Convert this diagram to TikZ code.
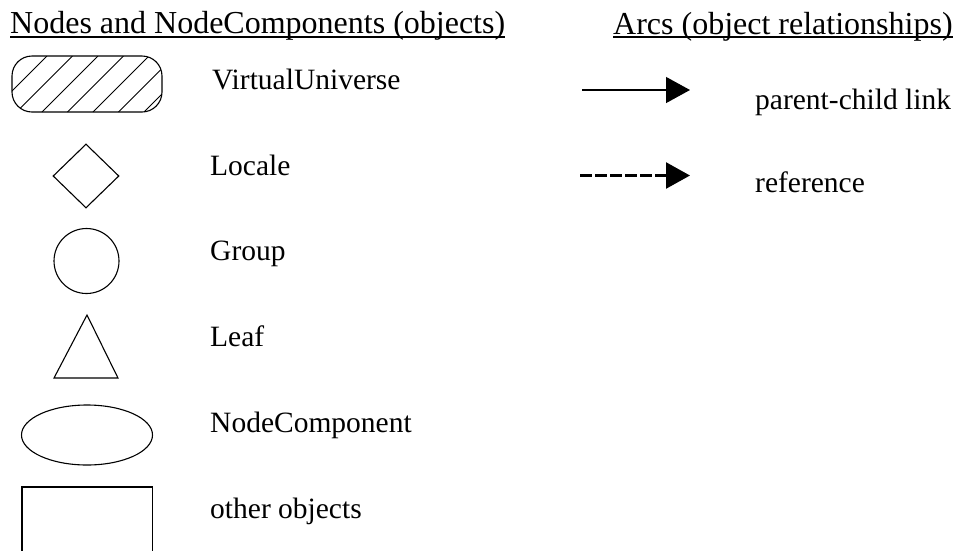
\documentclass[tikz,border=0pt]{standalone}
\usepackage{fontspec}
\setmainfont{Liberation Serif}
\usetikzlibrary{shapes.geometric,arrows.meta}
\begin{document}
\begin{tikzpicture}[x=1pt,y=-1pt,
  heading/.style={anchor=base west,inner sep=0pt,font=\fontsize{32}{36}\selectfont},
  label/.style={anchor=base west,inner sep=0pt,font=\fontsize{29.5}{34}\selectfont},
  outline/.style={draw=black,line width=1.1pt},
  linkarrow/.style={-{Triangle[length=24pt,width=26pt]}}]
\useasboundingbox (0,0) rectangle (961,550);

% headings, underlined
\node[heading] (h1) at (10,33) {Nodes and NodeComponents (objects)};
\node[heading] (h2) at (613,34) {Arcs (object relationships)};
\draw[line width=2pt] ([yshift=-4pt]h1.base west) -- ([yshift=-4pt]h1.base east);
\draw[line width=2pt] ([yshift=-3pt]h2.base west) -- ([yshift=-3pt]h2.base east);

% VirtualUniverse: hatched rounded box
\begin{scope}
  \clip[rounded corners=20pt] (12,56) rectangle (162,112);
  \foreach \k in {-3,...,6}
    \draw[line width=0.9pt] ({47+25.5*\k},56) -- ({47+25.5*\k-56},112);
\end{scope}
\draw[outline,rounded corners=20pt] (12,56) rectangle (162,112);
\node[label] (vu) at (212,89) {VirtualUniverse};

% Locale: diamond
\node[outline,diamond,minimum width=66pt,minimum height=64pt,inner sep=0pt] (loc) at (86,176) {};
\node[label] (loct) at (210,175) {Locale};

% Group: circle
\node[outline,circle,minimum size=65pt,inner sep=0pt] (grp) at (86.5,261) {};
\node[label] (grpt) at (210,260) {Group};

% Leaf: triangle
\draw[outline] (87,315) -- (118,378) -- (54,378) -- cycle;
\node[label] (leaft) at (210,346) {Leaf};

% NodeComponent: ellipse
\node[outline,ellipse,minimum width=131pt,minimum height=60pt,inner sep=0pt] (nc) at (87,435) {};
\node[label] (nct) at (210,432) {NodeComponent};

% other objects: box running off the bottom edge
\draw[outline] (22,570) -- (22,487) -- (152.5,487) -- (152.5,570);
\node[label] (oot) at (210,518) {other objects};

% arc kinds
\coordinate (pcA) at (582,90);
\coordinate (pcB) at (690,90);
\draw[linkarrow,line width=1.3pt] (pcA) -- (pcB);
\node[label] (pct) at (755,109) {parent-child link};

\coordinate (refA) at (580,175.5);
\coordinate (refB) at (690,175.5);
\draw[linkarrow,line width=2.4pt,dash pattern=on 12pt off 3pt] (refA) -- (refB);
\node[label] (reft) at (755,192) {reference};
\end{tikzpicture}
\end{document}
